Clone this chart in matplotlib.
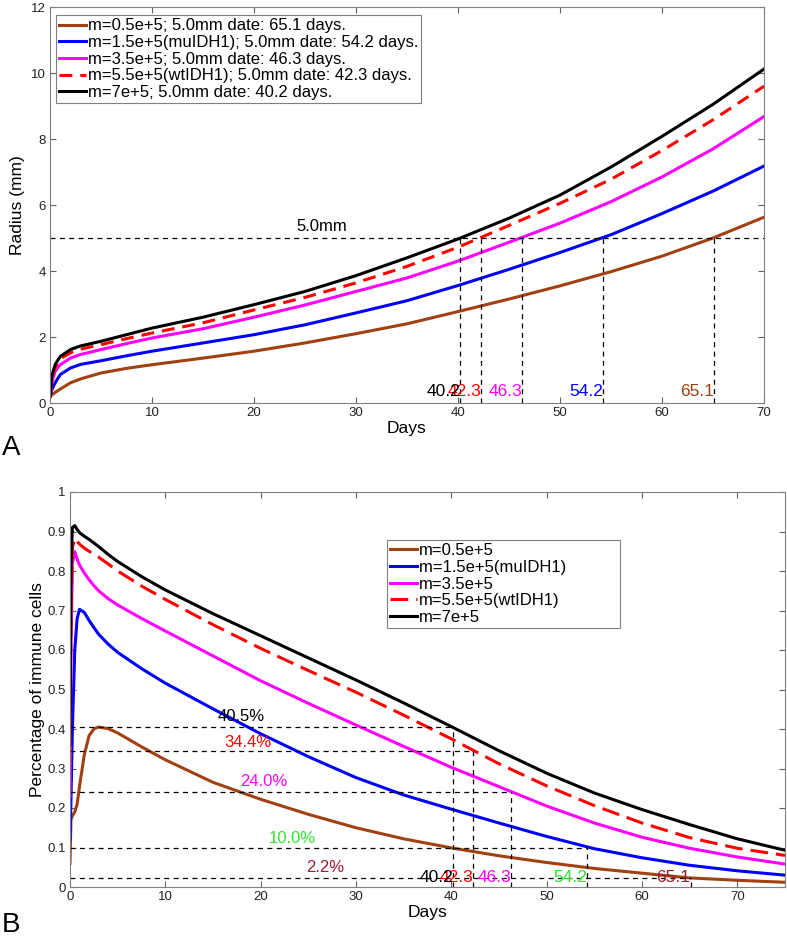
import matplotlib.pyplot as plt

plt.rcParams['font.family'] = ['Liberation Sans', 'DejaVu Sans']

# series labels / colours (legend order)
M_LABELS = ["0.5e+5", "1.5e+5(muIDH1)", "3.5e+5", "5.5e+5(wtIDH1)", "7e+5"]
COLORS = ["#a14010", "#0000ff", "#ff00ff", "#ff0000", "#000000"]
HIT_DAYS = [65.1, 54.2, 46.3, 42.3, 40.2]      # day the radius reaches 5.0 mm
HIT_PCT = [2.2, 10.0, 24.0, 34.4, 40.5]        # immune % on that day
PCT_COLORS = ["#9e1b32", "#2ee62e", "#ff00ff", "#ff0000", "#000000"]

# panel A: radius (mm) vs days
DAYS_A = [0, 0.2, 0.5, 1, 2, 3, 5, 7.5, 10, 15, 20, 25, 30, 35, 40, 45, 50, 55, 60, 65, 70]
RAD_BROWN = [0.2, 0.25, 0.32, 0.42, 0.61, 0.73, 0.91, 1.05, 1.16, 1.36, 1.57, 1.82, 2.10, 2.40,
             2.77, 3.15, 3.55, 3.98, 4.45, 5.00, 5.63]
RAD_BLUE = [0.2, 0.42, 0.61, 0.86, 1.06, 1.17, 1.28, 1.43, 1.57, 1.82, 2.07, 2.37, 2.73, 3.10,
            3.56, 4.05, 4.56, 5.10, 5.74, 6.42, 7.18]
RAD_MAGENTA = [0.2, 0.65, 0.96, 1.16, 1.36, 1.47, 1.62, 1.80, 1.97, 2.25, 2.60, 2.97, 3.38, 3.79,
               4.30, 4.87, 5.45, 6.10, 6.85, 7.70, 8.68]
RAD_RED = [0.2, 0.75, 1.08, 1.34, 1.52, 1.63, 1.77, 1.95, 2.12, 2.43, 2.82, 3.20, 3.64, 4.14,
           4.72, 5.38, 6.05, 6.78, 7.65, 8.58, 9.60]
RAD_BLACK = [0.2, 0.85, 1.16, 1.41, 1.62, 1.73, 1.87, 2.07, 2.27, 2.60, 2.98, 3.38, 3.86, 4.40,
             4.97, 5.60, 6.30, 7.15, 8.08, 9.05, 10.12]

# panel B: fraction of immune cells vs days
DAYS_B = [0, 0.1, 0.25, 0.5, 0.75, 1, 1.5, 2, 2.5, 3, 4, 5, 7.5, 10, 15, 20, 25, 30, 35, 40,
          45, 50, 55, 60, 65, 70, 75]
IMM_BROWN = [0.06, 0.17, 0.18, 0.19, 0.21, 0.255, 0.335, 0.383, 0.400, 0.405, 0.401, 0.390,
             0.355, 0.322, 0.265, 0.222, 0.184, 0.150, 0.122, 0.099, 0.079, 0.062, 0.047,
             0.035, 0.023, 0.017, 0.012]
IMM_BLUE = [0.12, 0.22, 0.40, 0.60, 0.68, 0.703, 0.695, 0.675, 0.657, 0.640, 0.615, 0.594,
            0.553, 0.516, 0.451, 0.388, 0.330, 0.277, 0.233, 0.197, 0.162, 0.128, 0.097,
            0.074, 0.055, 0.041, 0.030]
IMM_MAGENTA = [0.23, 0.60, 0.82, 0.849, 0.830, 0.815, 0.795, 0.778, 0.763, 0.750, 0.730,
               0.714, 0.680, 0.648, 0.585, 0.522, 0.465, 0.410, 0.356, 0.303, 0.254, 0.205,
               0.162, 0.126, 0.098, 0.076, 0.058]
IMM_RED = [0.31, 0.70, 0.86, 0.883, 0.875, 0.868, 0.858, 0.850, 0.843, 0.835, 0.818, 0.800,
           0.762, 0.728, 0.664, 0.604, 0.548, 0.493, 0.435, 0.375, 0.312, 0.256, 0.206,
           0.162, 0.125, 0.098, 0.080]
IMM_BLACK = [0.36, 0.80, 0.91, 0.915, 0.905, 0.897, 0.888, 0.880, 0.871, 0.862, 0.842,
             0.824, 0.786, 0.752, 0.692, 0.636, 0.580, 0.524, 0.466, 0.406, 0.345, 0.288,
             0.238, 0.196, 0.158, 0.122, 0.093]

RADII = [RAD_BROWN, RAD_BLUE, RAD_MAGENTA, RAD_RED, RAD_BLACK]
IMMUNE = [IMM_BROWN, IMM_BLUE, IMM_MAGENTA, IMM_RED, IMM_BLACK]


def style_axes(ax):
    for s in ax.spines.values():
        s.set_color('#808080')
        s.set_linewidth(0.8)
    ax.tick_params(direction='in', top=True, right=True, length=4, width=0.8,
                   color='#606060', labelsize=9.5, labelcolor='#222222', pad=3)


def line_style(i, short):
    if i == 3:
        return (0, (4.2, 2.6)) if short else (0, (5.8, 2.6))
    return '-'


fig = plt.figure(figsize=(7.87, 9.42), dpi=100)
axA = fig.add_axes([50 / 787, 1 - 403 / 942, 714 / 787, 396 / 942])
axB = fig.add_axes([70 / 787, 1 - 887 / 942, 715 / 787, 395 / 942])

thin = dict(color='black', lw=0.9, linestyle=(0, (4, 3.5)))

# ---- panel A
for i in range(5):
    axA.plot(DAYS_A, RADII[i], color=COLORS[i], lw=2.2, linestyle=line_style(i, True),
             label=f"m={M_LABELS[i]}; 5.0mm date: {HIT_DAYS[i]} days.")
axA.plot([0, 70], [5.0, 5.0], **thin)
axA.text(26.6, 5.12, "5.0mm", fontsize=12, ha='center', va='bottom')
for i in range(5):
    axA.plot([HIT_DAYS[i], HIT_DAYS[i]], [0, 5.0], **thin)
    axA.text(HIT_DAYS[i], 0.12, f"{HIT_DAYS[i]}", color=COLORS[i], fontsize=12.5,
             ha='right', va='bottom')
axA.set_xlim(0, 70)
axA.set_ylim(0, 12)
axA.set_xticks(range(0, 71, 10))
axA.set_yticks(range(0, 13, 2))
axA.set_xlabel("Days", fontsize=12.5, labelpad=1)
axA.set_ylabel("Radius (mm)", fontsize=12.5, labelpad=4)
style_axes(axA)
legA = axA.legend(loc='upper left', bbox_to_anchor=(56 / 787, 1 - 15 / 942),
                  bbox_transform=fig.transFigure, fontsize=12, fancybox=False,
                  edgecolor='#808080', framealpha=1, borderaxespad=0, labelspacing=0.1,
                  handlelength=1.6, handletextpad=0.1, borderpad=0.2)
legA.get_frame().set_linewidth(0.8)

# ---- panel B
for i in range(5):
    lab = f"m={M_LABELS[i]}"
    if i == 1:
        lab += "           "  # legend box in the original is wider than its text
    axB.plot(DAYS_B, IMMUNE[i], color=COLORS[i], lw=2.2, linestyle=line_style(i, False),
             label=lab)
pct_xy = [(26.8, 0.03), (23.3, 0.103), (20.3, 0.247), (18.7, 0.348), (18.0, 0.412)]
for i in range(5):
    v = HIT_PCT[i] / 100
    axB.plot([0, HIT_DAYS[i]], [v, v], **thin)
    axB.plot([HIT_DAYS[i], HIT_DAYS[i]], [0, v], **thin)
    axB.text(pct_xy[i][0], pct_xy[i][1], f"{HIT_PCT[i]:.1f}%", color=PCT_COLORS[i],
             fontsize=12, ha='center', va='bottom')
    axB.text(HIT_DAYS[i], 0.024, f"{HIT_DAYS[i]}", color=PCT_COLORS[i], fontsize=12.5,
             ha='right', va='center')
axB.set_xlim(0, 75)
axB.set_ylim(0, 1)
axB.set_xticks(range(0, 71, 10))
axB.set_yticks([k / 10 for k in range(11)])
axB.set_yticklabels([f"{k / 10:g}" for k in range(11)])
axB.set_xlabel("Days", fontsize=12.5, labelpad=1)
axB.set_ylabel("Percentage of immune cells", fontsize=12.5, labelpad=2)
style_axes(axB)
legB = axB.legend(loc='upper left', bbox_to_anchor=(387 / 787, 1 - 540 / 942),
                  bbox_transform=fig.transFigure, fontsize=12, fancybox=False,
                  edgecolor='#808080', framealpha=1, borderaxespad=0, labelspacing=0.1,
                  handlelength=1.6, handletextpad=0.1, borderpad=0.2)
legB.get_frame().set_linewidth(0.8)

fig.text(11 / 787, 1 - 448 / 942, "A", fontsize=20, ha='center', va='center')
fig.text(11 / 787, 1 - 925 / 942, "B", fontsize=20, ha='center', va='center')

fig.savefig("out.png", dpi=100)
